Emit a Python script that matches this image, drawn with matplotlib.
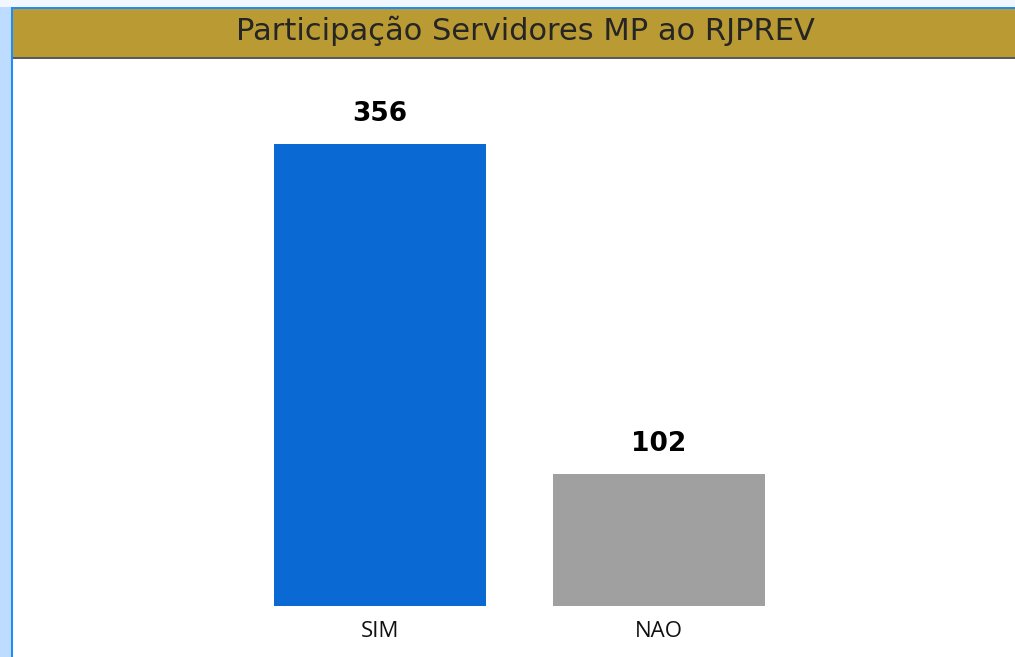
import matplotlib.pyplot as plt
from matplotlib.patches import Rectangle

categorias = ['SIM', 'NAO']
valores = [356, 102]
cores = ['#0b69d4', '#a0a0a0']

W, H = 1015, 657


def px(x, y, w, h):
    # pixel box (origem no topo) -> fração da figura
    return (x / W, 1 - (y + h) / H, w / W, h / H)


fig = plt.figure(figsize=(W / 100, H / 100), dpi=100)
fig.patch.set_facecolor('white')

# fundo / moldura
for (x, y, w, h), c in [
    ((0, 0, 11, H), '#bddcff'),
    ((0, 0, W, 7), '#f2f7ff'),
    ((11, 7, 2, H), '#1a8cff'),
    ((11, 7, W, 2), '#1a8cff'),
    ((13, 9, W, 48), '#b99a33'),
    ((13, 57, W, 2), '#5a5a5a'),
]:
    bx, by, bw, bh = px(x, y, w, h)
    fig.add_artist(Rectangle((bx, by), bw, bh, transform=fig.transFigure,
                             facecolor=c, edgecolor='none', zorder=0))

fig.text(525 / W, 1 - 31 / H, 'Participação Servidores MP ao RJPREV',
         ha='center', va='center', fontsize=22, color='#252525',
         family='DejaVu Sans')

# área do gráfico: barras centradas em 0 e 1, 279 px entre elas
ax = fig.add_axes(px(13, 59, W - 13, 547))
ax.set_facecolor('none')
pos = list(range(len(categorias)))
bars = ax.bar(pos, valores, width=0.76, color=cores)
ax.set_xlim(-(380 - 13) / 279, 1 + (1015 - 659) / 279)
ax.set_ylim(0, 547 / 1.298)

for b, v in zip(bars, valores):
    ax.annotate(str(v), (b.get_x() + b.get_width() / 2, v),
                xytext=(0, 12), textcoords='offset points',
                ha='center', va='bottom', fontsize=19, fontweight='bold',
                family='DejaVu Sans', color='black')

ax.set_xticks(pos)
ax.set_xticklabels(categorias, fontsize=16, family='Open Sans', color='#111111')
ax.tick_params(axis='x', length=0, pad=11)
ax.set_yticks([])
for s in ax.spines.values():
    s.set_visible(False)

plt.savefig('out.png', dpi=100)
